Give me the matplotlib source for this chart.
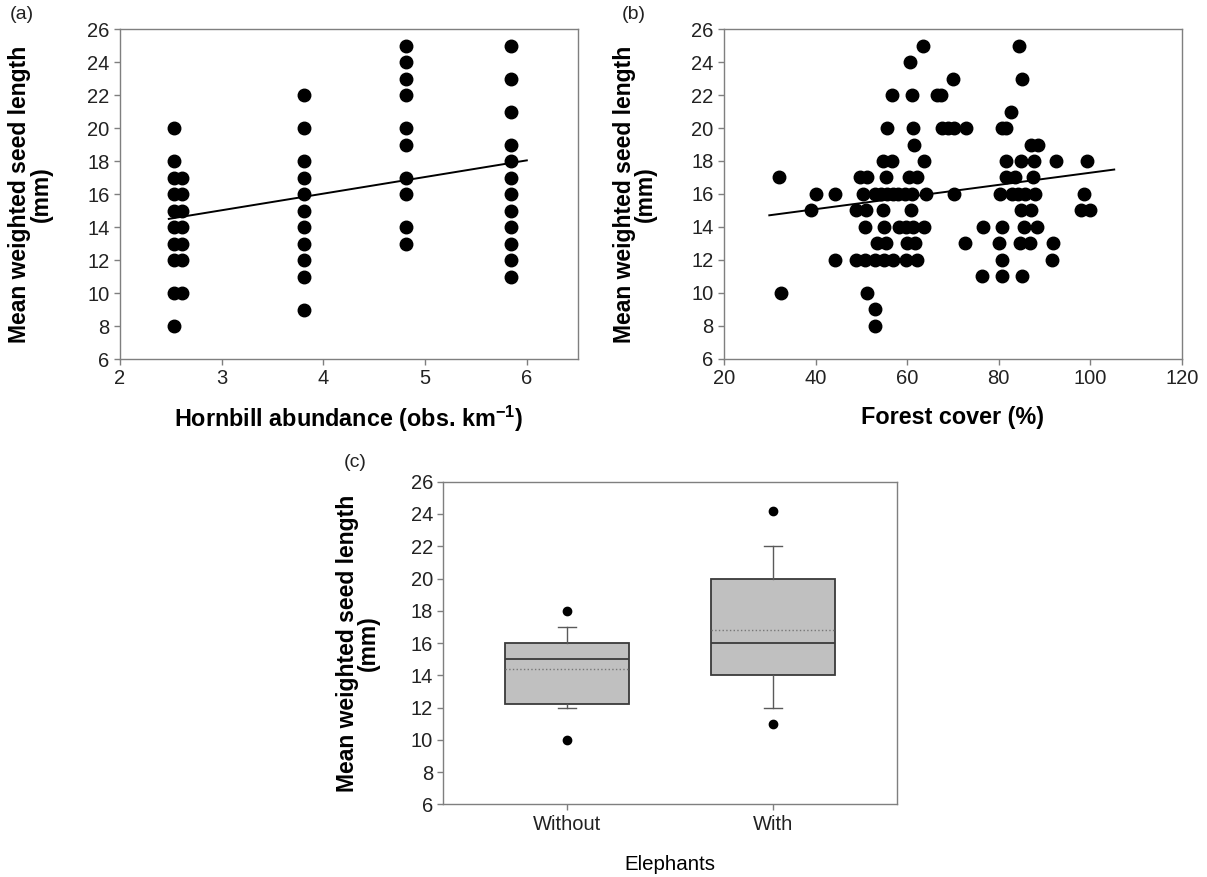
import matplotlib
matplotlib.use("Agg")
import matplotlib.pyplot as plt

plt.rcParams['font.family'] = ['Liberation Sans', 'DejaVu Sans']
plt.rcParams['mathtext.fontset'] = 'custom'
plt.rcParams['mathtext.rm'] = 'Liberation Sans'
plt.rcParams['mathtext.bf'] = 'Liberation Sans:bold'

# (a) hornbill abundance: one column of points per site group
hornbill_cols = [2.53, 2.61, 3.81, 4.81, 5.84]
hornbill_seed = [
    [20, 18, 17, 16, 15, 14, 13, 12, 10, 8],
    [17, 16, 15, 14, 13, 12, 10],
    [22, 20, 18, 17, 16, 15, 14, 13, 12, 11, 9],
    [25, 24, 23, 22, 20, 19, 17, 16, 14, 13],
    [25, 23, 21, 19, 18, 17, 16, 15, 14, 13, 12, 11],
]
fit_a_x = [2.48, 6.0]
fit_a_y = [14.5, 18.05]

# (b) forest cover
forest_cover = [
    63.5, 84.4,
    60.6,
    70.1, 85.1,
    56.7, 61.0, 66.5, 67.3,
    82.6,
    55.6, 61.3, 67.6, 68.9, 70.2, 72.8, 80.6, 81.6,
    61.5, 87.0, 88.5,
    54.8, 56.6, 63.7, 81.6, 84.9, 87.6, 92.5, 99.3,
    32.1, 49.7, 51.2, 55.4, 60.4, 62.2, 81.6, 83.6, 87.4,
    40.1, 44.2, 50.3, 53.0, 54.3, 55.5, 56.8, 58.0, 59.5, 61.0, 64.0, 70.2,
    80.2, 82.8, 84.3, 85.8, 87.9, 98.5,
    39.0, 48.8, 51.0, 54.8, 60.8, 84.8, 87.0, 98.0, 99.9,
    50.8, 54.9, 58.3, 59.8, 61.3, 63.6, 76.6, 80.7, 85.4, 88.4,
    53.5, 55.3, 60.0, 61.8, 72.7, 80.0, 84.6, 86.8, 91.8,
    44.2, 48.9, 50.9, 52.9, 54.9, 56.9, 59.7, 62.2, 80.8, 91.7,
    76.4, 80.8, 85.1,
    32.5, 51.3,
    52.9,
    52.9,
]
forest_seed = [
    25, 25,
    24,
    23, 23,
    22, 22, 22, 22,
    21,
    20, 20, 20, 20, 20, 20, 20, 20,
    19, 19, 19,
    18, 18, 18, 18, 18, 18, 18, 18,
    17, 17, 17, 17, 17, 17, 17, 17, 17,
    16, 16, 16, 16, 16, 16, 16, 16, 16, 16, 16, 16,
    16, 16, 16, 16, 16, 16,
    15, 15, 15, 15, 15, 15, 15, 15, 15,
    14, 14, 14, 14, 14, 14, 14, 14, 14, 14,
    13, 13, 13, 13, 13, 13, 13, 13, 13,
    12, 12, 12, 12, 12, 12, 12, 12, 12, 12,
    11, 11, 11,
    10, 10,
    9,
    8,
]
fit_b_x = [29.9, 105.2]
fit_b_y = [14.7, 17.48]

# (c) elephants boxplot summary
groups = ['Without', 'With']
q1 = [12.2, 14.0]
med = [15.0, 16.0]
q3 = [16.0, 20.0]
means = [14.4, 16.8]
whis_lo = [12.0, 12.0]
whis_hi = [17.0, 22.0]
fliers = [[10.0, 18.0], [11.0, 24.2]]

spine_col = '#7f7f7f'
ylab = 'Mean weighted seed length\n(mm)'
tick_fs = 14.5
ylab_fs = 16.5
xlab_fs = 16.8


def style(ax):
    for s in ax.spines.values():
        s.set_color(spine_col)
        s.set_linewidth(1.0)
    ax.tick_params(direction='out', length=4, width=1, color=spine_col,
                   labelsize=tick_fs, labelcolor='#222222')
    ax.set_ylim(6, 26)
    ax.set_yticks(range(6, 27, 2))


fig = plt.figure(figsize=(12.07, 8.77), dpi=100)

# PANEL A
ax_a = fig.add_axes([0.0994, 0.5906, 0.3792, 0.376])
for xc, ys in zip(hornbill_cols, hornbill_seed):
    ax_a.plot([xc] * len(ys), ys, 'o', color='black', ms=9, zorder=3)
ax_a.plot(fit_a_x, fit_a_y, '-', color='black', lw=1.4, zorder=4)
style(ax_a)
ax_a.set_xlim(2, 6.5)
ax_a.set_xticks([2, 3, 4, 5, 6])
ax_a.set_ylabel(ylab, fontsize=ylab_fs, fontweight='bold', linespacing=0.92)
ax_a.yaxis.set_label_coords(-0.147, 0.5)
ax_a.set_xlabel(r'Hornbill abundance (obs. km$^{\mathbf{-1}}$)', fontsize=xlab_fs, fontweight='bold')
ax_a.xaxis.label.set_verticalalignment('center')
ax_a.xaxis.set_label_coords(0.5, -0.183)

# PANEL B
ax_b = fig.add_axes([0.5998, 0.5912, 0.3795, 0.3754])
ax_b.plot(forest_cover, forest_seed, 'o', color='black', ms=9, zorder=3)
ax_b.plot(fit_b_x, fit_b_y, '-', color='black', lw=1.4, zorder=4)
style(ax_b)
ax_b.set_xlim(20, 120)
ax_b.set_xticks(range(20, 121, 20))
ax_b.set_ylabel(ylab, fontsize=ylab_fs, fontweight='bold', linespacing=0.92)
ax_b.yaxis.set_label_coords(-0.146, 0.5)
ax_b.set_xlabel('Forest cover (%)', fontsize=xlab_fs, fontweight='bold')
ax_b.xaxis.label.set_verticalalignment('center')
ax_b.xaxis.set_label_coords(0.5, -0.18)

# PANEL C
ax_c = fig.add_axes([0.3673, 0.0829, 0.3756, 0.3678])
stats = []
for i in range(len(groups)):
    stats.append(dict(label=groups[i], q1=q1[i], med=med[i], q3=q3[i], mean=means[i],
                      whislo=whis_lo[i], whishi=whis_hi[i], fliers=fliers[i]))
ax_c.bxp(stats, positions=[1, 2], widths=0.6, capwidths=0.085, patch_artist=True,
         showmeans=True, meanline=True,
         boxprops=dict(facecolor='#c0c0c0', edgecolor='#3a3a3a', linewidth=1.3),
         medianprops=dict(color='#3a3a3a', linewidth=1.3),
         meanprops=dict(color='#777777', linestyle=':', linewidth=1.0),
         whiskerprops=dict(color='#5a5a5a', linewidth=1.0),
         capprops=dict(color='#5a5a5a', linewidth=1.0),
         flierprops=dict(marker='o', markerfacecolor='black', markeredgecolor='black', markersize=6))
style(ax_c)
ax_c.set_xlim(0.4, 2.6)
ax_c.set_xticks([1, 2])
ax_c.set_xticklabels(groups)
ax_c.set_ylabel(ylab, fontsize=ylab_fs, fontweight='bold', linespacing=0.92)
ax_c.yaxis.set_label_coords(-0.139, 0.5)
ax_c.set_xlabel('Elephants', fontsize=14.8)
ax_c.xaxis.label.set_verticalalignment('center')
ax_c.xaxis.set_label_coords(0.5, -0.188)

# panel letters
fig.text(0.008, 0.993, '(a)', fontsize=14, va='top', ha='left', color='#222222')
fig.text(0.515, 0.993, '(b)', fontsize=14, va='top', ha='left', color='#222222')
fig.text(0.285, 0.482, '(c)', fontsize=14, va='top', ha='left', color='#222222')

fig.savefig('out.png', dpi=100)
